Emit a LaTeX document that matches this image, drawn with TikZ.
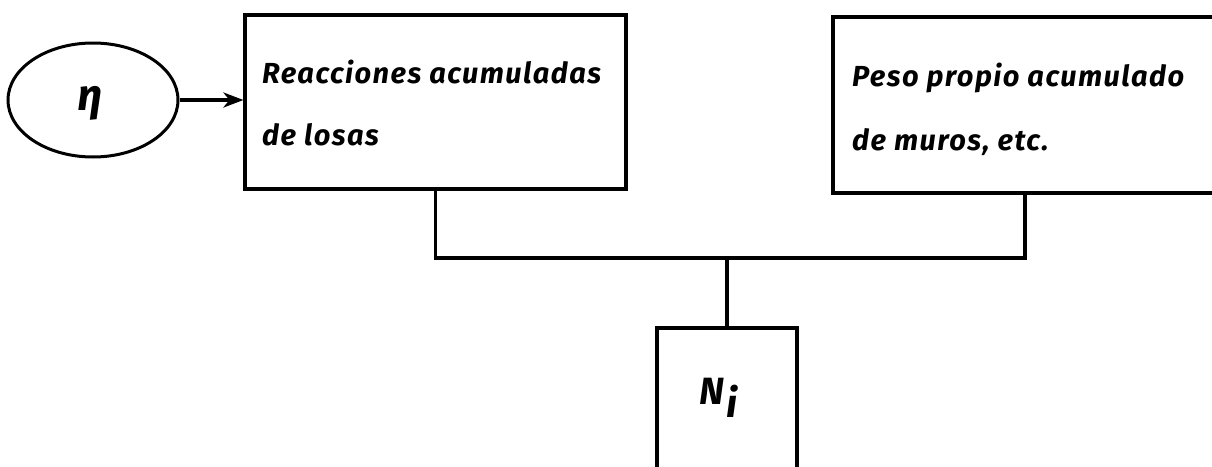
\documentclass[tikz,border=0pt]{standalone}
\usepackage{fontspec}
\setmainfont{Fira Sans}
\usetikzlibrary{shapes.geometric,arrows.meta}
\tikzset{
  box/.style={draw, line width=3.2pt, rectangle, inner sep=0pt},
  lbl/.style={font=\fontsize{29}{32}\selectfont\bfseries\itshape\addfontfeatures{LetterSpace=5}, inner sep=0pt, anchor=base west},
  wire/.style={draw, line width=3.3pt},
}
\begin{document}
\begin{tikzpicture}[x=1pt,y=-1pt]
\useasboundingbox (0,0) rectangle (1212,466);
\fill[white] (0,0) rectangle (1212,466);
\begin{scope}
\clip (0,0) rectangle (1212,466);
% ellipse with eta
\node[draw, ellipse, line width=3pt, minimum width=170pt, minimum height=114pt, inner sep=0pt] (E) at (93,100) {};
\node[font=\fontsize{44}{44}\selectfont\bfseries\itshape, inner sep=0pt] (Eta) at (90,103) {η};
% left box
\node[box, minimum width=381pt, minimum height=174pt] (A) at (435.5,102) {};
\node[lbl] (A1) at (262,83) {Reacciones acumuladas};
\node[lbl] (A2) at (262,145) {de losas};
% right box (runs past the right edge)
\node[box, minimum width=410pt, minimum height=176pt] (B) at (1038,105) {};
\node[lbl] (B1) at (852,86) {Peso propio acumulado};
\node[lbl] (B2) at (852,150) {de muros, etc.};
% N_i box (runs past the bottom edge)
\node[box, minimum width=140pt, minimum height=160pt] (N) at (727,408) {};
\node[font=\fontsize{38}{38}\selectfont\bfseries\itshape, inner sep=0pt, anchor=base west] (Nt) at (699,404) {N\kern2pt\raisebox{-13pt}{\fontsize{40}{40}\selectfont\bfseries\itshape i}};
% connectors
\coordinate (J) at (727,258);
\path[wire, -{Stealth[length=20pt,width=15pt,inset=6pt]}] (E.east) -- (E.east -| A.west);
\path[wire] (A.south) |- (J) -| ([xshift=-13pt]B.south);
\path[wire] (J) -- (N.north);
\end{scope}
\end{tikzpicture}
\end{document}
